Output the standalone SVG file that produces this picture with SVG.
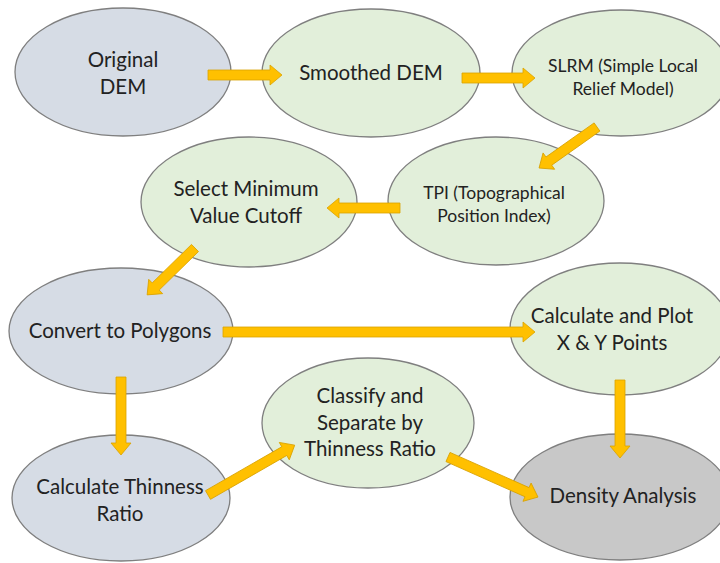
<svg xmlns="http://www.w3.org/2000/svg" width="720" height="563" viewBox="0 0 720 563">
<style>
.n{stroke:#7f7f7f;stroke-width:1.3}
.b{fill:#d6dce5}
.g{fill:#e2efda}
.d{fill:#c8c8c8}
text{font-family:Lato,"Open Sans","Liberation Sans",sans-serif;fill:#222;text-anchor:middle;dominant-baseline:central;font-size:20.5px}
.s{font-size:17.5px}
.a{fill:#ffc000;stroke:#d9a200;stroke-width:0.8}
</style>
<rect width="720" height="563" fill="#fff"/>
<g id="original-dem"><ellipse class="n b" cx="123" cy="72" rx="108" ry="64"/><text x="123" y="59">Original</text><text x="123" y="86">DEM</text></g>
<g id="smoothed-dem"><ellipse class="n g" cx="371" cy="73" rx="109" ry="64"/><text x="371" y="72">Smoothed DEM</text></g>
<g id="slrm"><ellipse class="n g" cx="621" cy="73" rx="109" ry="63"/><text class="s" x="623" y="65">SLRM (Simple Local</text><text class="s" x="623" y="88">Relief Model)</text></g>
<g id="tpi"><ellipse class="n g" cx="496" cy="201" rx="108" ry="64"/><text class="s" x="494" y="192">TPI (Topographical</text><text class="s" x="494" y="215">Position Index)</text></g>
<g id="select-min"><ellipse class="n g" cx="249" cy="202" rx="108" ry="65"/><text x="246" y="188">Select Minimum</text><text x="246" y="215">Value Cutoff</text></g>
<g id="convert"><ellipse class="n b" cx="121" cy="331" rx="112" ry="63"/><text x="120" y="330">Convert to Polygons</text></g>
<g id="calc-plot"><ellipse class="n g" cx="620" cy="329" rx="110" ry="66"/><text x="612" y="315">Calculate and Plot</text><text x="612" y="342">X &amp; Y Points</text></g>
<g id="classify"><ellipse class="n g" cx="368" cy="423" rx="106" ry="65"/><text x="370" y="395">Classify and</text><text x="370" y="422">Separate by</text><text x="370" y="448">Thinness Ratio</text></g>
<g id="calc-thin"><ellipse class="n b" cx="121" cy="498" rx="109" ry="63"/><text x="120" y="486">Calculate Thinness</text><text x="120" y="513">Ratio</text></g>
<g id="density"><ellipse class="n d" cx="620" cy="497" rx="110" ry="63"/><text x="623" y="495">Density Analysis</text></g>
<g id="connectors">
<polygon class="a" transform="translate(208,75)" points="0,-5 62,-5 62,-10 74,0 62,10 62,5 0,5"/>
<polygon class="a" transform="translate(462,78)" points="0,-5 61,-5 61,-10 73,0 61,10 61,5 0,5"/>
<polygon class="a" transform="translate(597,127) rotate(144.7)" points="0,-5 59,-5 59,-10 71,0 59,10 59,5 0,5"/>
<polygon class="a" transform="translate(400,208) rotate(180)" points="0,-5 61,-5 61,-10 73,0 61,10 61,5 0,5"/>
<polygon class="a" transform="translate(195,248) rotate(135.6)" points="0,-5 55,-5 55,-10 67,0 55,10 55,5 0,5"/>
<polygon class="a" transform="translate(223,332)" points="0,-5 300,-5 300,-10 312,0 300,10 300,5 0,5"/>
<polygon class="a" transform="translate(121,377) rotate(90)" points="0,-5 66,-5 66,-10 78,0 66,10 66,5 0,5"/>
<polygon class="a" transform="translate(208,495) rotate(-29.9)" points="0,-5 88,-5 88,-10 100,0 88,10 88,5 0,5"/>
<polygon class="a" transform="translate(448,457) rotate(24)" points="0,-5 86.5,-5 86.5,-10 98.5,0 86.5,10 86.5,5 0,5"/>
<polygon class="a" transform="translate(620,380) rotate(90)" points="0,-5 66,-5 66,-10 78,0 66,10 66,5 0,5"/>
</g>
</svg>
